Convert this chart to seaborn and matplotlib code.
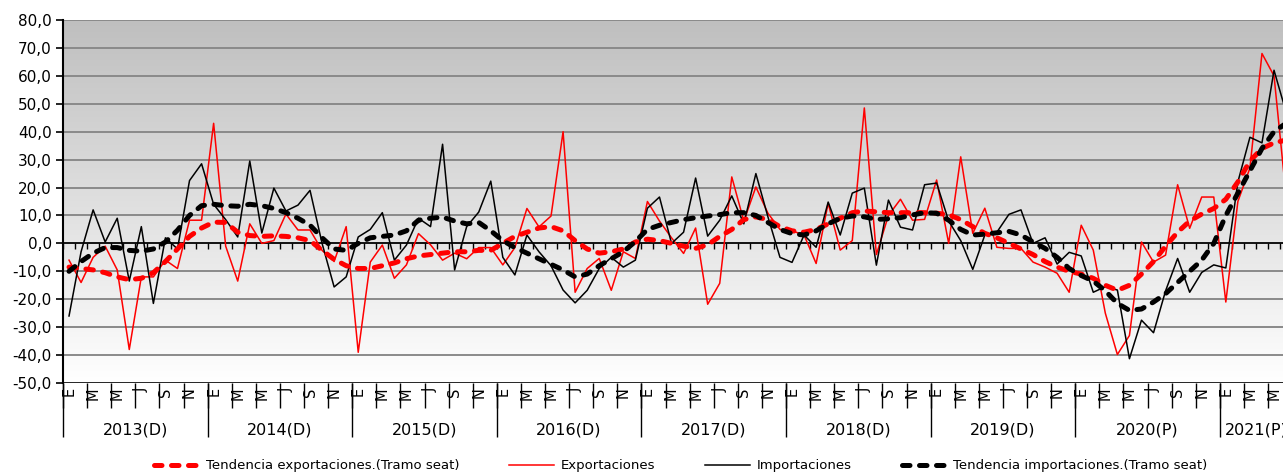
"""
Comercio exterior: tasas de variación mensual y tendencias (Tramo seat)
"""
import numpy as np
import pandas as pd
import matplotlib
matplotlib.use("Agg")
import matplotlib.pyplot as plt
from matplotlib.colors import LinearSegmentedColormap
from matplotlib.ticker import FuncFormatter
import seaborn as sns

# --- datos (ene-2013 a jun-2021) ---
anios = ['2013(D)', '2014(D)', '2015(D)', '2016(D)', '2017(D)',
         '2018(D)', '2019(D)', '2020(P)', '2021(P)']
meses = ['E', 'F', 'M', 'A', 'M', 'J', 'J', 'A', 'S', 'O', 'N', 'D']

exportaciones = [
    -6, -14, -5, -1, -9.5, -38, -12, -12, -6, -9, 8.3, 8.3,
    43, -1, -13.5, 7, 0, 1, 10.5, 4.8, 4.8, -2.5, -6.5, 6,
    -39, -6.7, -0.6, -12.5, -7.7, 3.5, -0.5, -6, -3.5, -5.5, -1.5, -1.5,
    -7.7, -1.5, 12.5, 5.9, 9.8, 40, -17.5, -9, -5.4, -16.8, -3, -5.4,
    15, 8, 2, -3.6, 5.5, -21.8, -14.3, 23.8, 8, 20.2, 10.8, 5,
    4.5, 3, -7.2, 14.4, -2.4, 1, 48.5, -4, 10, 15.8, 8.3, 8.6,
    22.7, 0, 31, 3.6, 12.6, -1.4, -1.8, -1.8, -6.7, -8.5, -10.7, -17.5,
    6.5, -2.4, -25, -39.8, -33, 0.5, -6.7, -4.2, 21, 5.4, 16.6, 16.6,
    -21, 15, 27, 68, 60, 17,
]
importaciones = [
    -26, -3, 12, 0.5, 9, -13.5, 6, -21.5, 2, -2, 22.5, 28.5,
    14, 8.5, 2.3, 29.5, 3.7, 19.8, 11.6, 13.7, 19, 0, -15.6, -12,
    2.3, 5, 11, -6, -0.6, 9, 6, 35.5, -9.5, 6, 11.2, 22.3,
    -5, -11.3, 3, -3, -8, -16.7, -21.3, -16.8, -9, -5, -8.5, -6,
    12.6, 16.6, 0, 4, 23.4, 2.6, 8.3, 17, 7, 25, 9.5, -5,
    -6.8, 3, -1.4, 14.8, 3, 18, 19.8, -7.8, 15.5, 5.8, 4.8, 21,
    21.6, 8, 1, -9.3, 3, 4, 10.4, 12, 0, 2, -7.4, -3.2,
    -4.5, -17.5, -15.5, -16.7, -41.3, -27.5, -32, -17, -5.4, -17.5, -10.4, -7.7,
    -8.8, 22, 38, 36, 62, 47,
]
tend_export = [
    -8.5, -9, -9.5, -10.5, -12, -13, -12.5, -10.5, -6.5, -2, 2.5, 5.5,
    7.6, 7.5, 4, 2.8, 2.5, 2.7, 2.5, 2, 1, -2.5, -5.7, -8,
    -9, -9, -8, -7, -5.5, -4.5, -4, -3.5, -3, -3, -2.5, -2.5,
    0, 2.5, 4, 5.5, 6, 4.5, 1, -2, -3.5, -3, -2, 0.5,
    1.5, 1, 0, -1, -1.8, -0.5, 2.5, 5, 8.5, 9.5, 8.5, 6,
    4.5, 4, 5, 7, 9, 11, 11.6, 11.3, 11, 11, 11, 11,
    10.8, 10.3, 8.5, 6, 3.6, 2, 0, -2, -4, -6.5, -8.5, -10,
    -11, -12.5, -15, -16.8, -15, -11, -6.5, -1, 4, 8, 10.5, 12.5,
    15.8, 22, 29.5, 34, 36, 37,
]
tend_import = [
    -10, -6.5, -3.5, -1.5, -1.5, -2.5, -2.8, -2, 0.5, 4.7, 10, 13.5,
    14, 13.5, 13.3, 14, 13.5, 12.5, 11, 9, 6.5, 2, -2, -2.5,
    0, 2, 2.5, 3, 4.5, 8.3, 9, 9.4, 8, 7, 7.5, 4.5,
    1, -1.5, -3.5, -5.5, -7.5, -9.5, -12, -11, -8, -5.5, -3, 0.7,
    5, 6.5, 7.5, 8.5, 9.2, 9.8, 10.3, 11, 11, 10, 7.5, 5,
    3.5, 3, 4.5, 7, 9, 9.8, 9.5, 8.6, 8.8, 9.2, 10.2, 11,
    10.8, 8.3, 5, 3, 3.3, 3.8, 4.3, 3, 0.5, -1.8, -5, -9,
    -11.5, -13.5, -17, -21.5, -24, -23.5, -21, -18, -14, -10, -6, 0,
    10, 18, 26, 34, 40, 43,
]

n = len(exportaciones)
df = pd.DataFrame({
    'mes': np.arange(n),
    'Exportaciones': exportaciones,
    'Importaciones': importaciones,
    'Tendencia exportaciones.(Tramo seat)': tend_export,
    'Tendencia importaciones.(Tramo seat)': tend_import,
})

plt.rcParams['font.family'] = ['DejaVu Sans']

W, H = 1283, 475
fig = plt.figure(figsize=(W / 100, H / 100), dpi=100)
# plot area runs past the right edge, like the cropped original
ax = fig.add_axes([63 / W, 92 / H, n * 12.05 / W, 363 / H])

ymin, ymax = -50, 80
ax.set_xlim(-0.5, n - 0.5)
ax.set_ylim(ymin, ymax)

# gray-to-white gradient background
cmap = LinearSegmentedColormap.from_list('fondo', ['#bfbfbf', '#ffffff'])
ax.imshow(np.linspace(0, 1, 256).reshape(-1, 1), cmap=cmap, aspect='auto',
          extent=(-0.5, n - 0.5, ymin, ymax), zorder=0)

for v in range(ymin + 10, ymax + 1, 10):
    ax.axhline(v, color='#8a8a8a', lw=1.4, zorder=1)
ax.axhline(ymin, color='black', lw=1.2, zorder=1)

# series
sns.lineplot(data=df, x='mes', y='Exportaciones', color='#ff0000', lw=1.1,
             label='Exportaciones', ax=ax, zorder=3)
sns.lineplot(data=df, x='mes', y='Importaciones', color='black', lw=1.1,
             label='Importaciones', ax=ax, zorder=3)
sns.lineplot(data=df, x='mes', y='Tendencia exportaciones.(Tramo seat)',
             color='#ff0000', lw=3.6, label='Tendencia exportaciones.(Tramo seat)',
             ax=ax, zorder=4, dashes=False)
sns.lineplot(data=df, x='mes', y='Tendencia importaciones.(Tramo seat)',
             color='black', lw=3.6, label='Tendencia importaciones.(Tramo seat)',
             ax=ax, zorder=5, dashes=False)
for ln in ax.lines[-2:]:
    ln.set_dashes((1.5, 1.9))
    ln.set_dash_capstyle('round')

ax.set_xlabel('')
ax.set_ylabel('')

# axes: left spine + x axis crossing at zero
for s in ['top', 'right']:
    ax.spines[s].set_visible(False)
ax.spines['left'].set_linewidth(1.5)
ax.spines['bottom'].set_position(('data', 0))
ax.spines['bottom'].set_linewidth(1.2)
ax.spines['bottom'].set_zorder(2)

ax.set_yticks(range(ymin, ymax + 1, 10))
ax.yaxis.set_major_formatter(FuncFormatter(lambda v, p: f'{v:.1f}'.replace('.', ',')))
ax.tick_params(axis='y', direction='out', length=5, width=1.2, labelsize=11, pad=3)
ax.set_xticks(np.arange(-0.5, n, 1))
ax.tick_params(axis='x', direction='out', length=4, width=1, labelbottom=False)

# category labels below the plot area
xt = ax.get_xaxis_transform()
ax.vlines(np.arange(-0.5, n, 2), -0.069, 0, transform=xt, colors='black',
          lw=1, clip_on=False)
ax.vlines(np.arange(-0.5, n, 12), -0.149, 0, transform=xt, colors='black',
          lw=1, clip_on=False)
for i in range(0, n, 2):
    ax.text(i, -0.012, meses[i % 12], transform=xt, rotation=90,
            ha='center', va='top', fontsize=10.5)
for k, lab in enumerate(anios):
    ini, fin = 12 * k, min(12 * k + 12, n)
    ax.text((ini + fin - 1) / 2, -0.13, lab, transform=xt,
            ha='center', va='center', fontsize=11.5)

# legend along the bottom
handles, labels = ax.get_legend_handles_labels()
ax.get_legend().remove()
orden = ['Tendencia exportaciones.(Tramo seat)', 'Exportaciones',
         'Importaciones', 'Tendencia importaciones.(Tramo seat)']
hmap = dict(zip(labels, handles))
fig.legend([hmap[l] for l in orden], orden, loc='center',
           bbox_to_anchor=(681 / W, 1 - 466 / H), ncol=4, frameon=False,
           fontsize=9.5, handlelength=3.4, handletextpad=0.5,
           columnspacing=3.8)

fig.savefig('out.png', dpi=100)
